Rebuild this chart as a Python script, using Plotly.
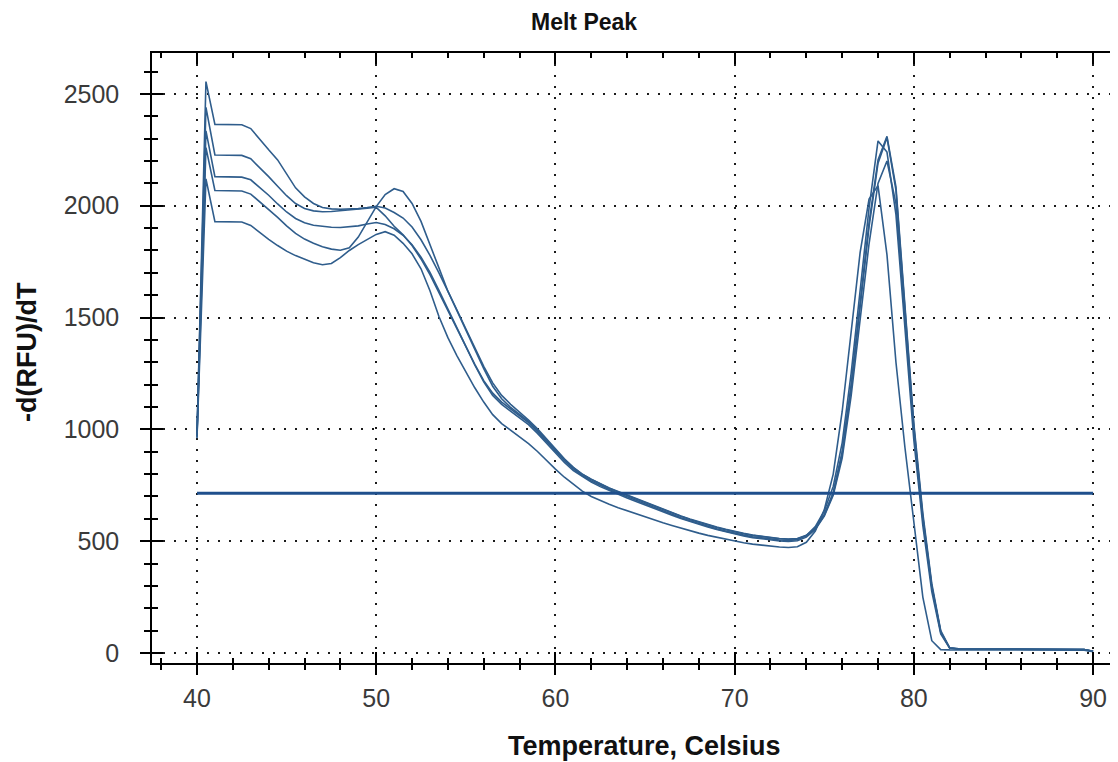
import plotly.graph_objects as go

# Temperature grid (°C), 0.5 degree steps from 40 to 90
temperature = [40 + 0.5 * i for i in range(101)]

curve_a = [975, 2555, 2364, 2364, 2364, 2362, 2345, 2295, 2250, 2205,
           2140, 2080, 2040, 2010, 1992, 1986, 1984, 1984, 1987, 1992,
           1998, 1990, 1970, 1945, 1905, 1848, 1778, 1700, 1620, 1535,
           1450, 1365, 1282, 1208, 1152, 1112, 1078, 1042, 1002, 957,
           912, 868, 830, 800, 776, 756, 737, 720, 704, 689,
           673, 657, 641, 626, 611, 597, 584, 572, 561, 551,
           541, 533, 526, 520, 515, 511, 509, 511, 524, 556,
           616, 712, 890, 1185, 1545, 1905, 2190, 2305, 2070, 1540,
           1010, 610, 300, 95, 22, 18, 18, 18, 17, 17,
           17, 17, 17, 17, 17, 16, 16, 16, 16, 15,
           8]

curve_b = [980, 2440, 2227, 2227, 2227, 2225, 2210, 2172, 2130, 2087,
           2045, 2010, 1988, 1977, 1973, 1974, 1977, 1980, 1984, 1989,
           1993, 1955, 1908, 1870, 1822, 1762, 1692, 1612, 1530, 1447,
           1367, 1291, 1218, 1162, 1122, 1092, 1062, 1030, 990, 946,
           900, 860, 823, 793, 769, 749, 731, 714, 698, 683,
           667, 651, 635, 620, 605, 591, 578, 566, 555, 545,
           535, 527, 520, 514, 509, 505, 503, 507, 525, 565,
           635, 745, 940, 1250, 1620, 1990, 2290, 2240, 1960, 1450,
           950, 570, 275, 85, 21, 18, 17, 17, 17, 17,
           17, 17, 16, 16, 16, 16, 16, 16, 15, 15,
           7]

curve_c = [970, 2335, 2130, 2130, 2130, 2128, 2116, 2083, 2047, 2008,
           1972, 1943, 1924, 1913, 1907, 1904, 1903, 1905, 1910, 1918,
           1925, 1916, 1897, 1868, 1826, 1770, 1702, 1622, 1537, 1452,
           1368, 1288, 1212, 1152, 1112, 1082, 1052, 1021, 982, 937,
           892, 852, 816, 788, 764, 744, 726, 709, 693, 678,
           662, 646, 631, 616, 602, 588, 575, 563, 552, 542,
           532, 523, 516, 510, 505, 501, 499, 502, 518, 552,
           612, 705, 872, 1150, 1490, 1830, 2100, 2200, 2010, 1510,
           995, 600, 295, 92, 22, 19, 18, 18, 18, 18,
           18, 17, 17, 17, 17, 17, 17, 16, 16, 16,
           8]

curve_d = [965, 2260, 2068, 2068, 2068, 2066, 2052, 2018, 1983, 1948,
           1910, 1876, 1851, 1832, 1817, 1806, 1801, 1812, 1860, 1930,
           1996, 2050, 2076, 2064, 2010, 1930, 1830, 1722, 1618, 1530,
           1445, 1357, 1272, 1193, 1137, 1098, 1067, 1036, 996, 951,
           906, 865, 829, 799, 777, 757, 738, 722, 706, 691,
           675, 659, 643, 628, 613, 599, 586, 574, 563, 553,
           543, 535, 527, 521, 516, 512, 510, 512, 526, 558,
           620, 718, 900, 1200, 1565, 1925, 2205, 2310, 2085, 1560,
           1025, 625, 310, 100, 23, 19, 19, 18, 18, 18,
           18, 18, 17, 17, 17, 17, 17, 17, 16, 16,
           8]

curve_e = [960, 2120, 1929, 1929, 1929, 1927, 1912, 1880, 1850, 1822,
           1797, 1777, 1760, 1745, 1736, 1742, 1768, 1800, 1826, 1850,
           1872, 1884, 1868, 1832, 1785, 1718, 1620, 1505, 1410, 1330,
           1255, 1186, 1122, 1066, 1026, 996, 966, 936, 901, 861,
           822, 786, 753, 724, 700, 682, 665, 650, 636, 622,
           608, 595, 582, 570, 558, 547, 536, 526, 517, 508,
           500, 493, 487, 482, 477, 474, 472, 475, 495, 545,
           640, 800, 1080, 1430, 1790, 2030, 2090, 1780, 1300, 920,
           590, 250, 55, 15, 14, 14, 14, 14, 14, 14,
           14, 14, 14, 13, 13, 13, 13, 13, 13, 13,
           6]

curves = [curve_a, curve_b, curve_c, curve_d, curve_e]

threshold_x = [40, 90]
threshold_value = 714

x_range = [37.49, 91.39]
y_range = [-44.7, 2683]

CURVE_COLOR = "#2f5d8c"
THRESH_COLOR = "#1f4f8c"
TICK_FONT = dict(family="Liberation Sans, Arial, sans-serif", size=25, color="#3a3a3a")
GRID_DASH = "2px,9px"

fig = go.Figure()

for vals in curves:
    fig.add_trace(go.Scatter(
        x=temperature, y=vals, mode="lines",
        line=dict(color=CURVE_COLOR, width=1.6),
        showlegend=False, hoverinfo="skip",
    ))

fig.add_trace(go.Scatter(
    x=threshold_x, y=[threshold_value, threshold_value], mode="lines",
    line=dict(color=THRESH_COLOR, width=3),
    xaxis="x2", yaxis="y2", showlegend=False, hoverinfo="skip",
))

# page has an 8px body margin; figure is sized so the plot area lands
# at page pixels x 152..1118, y 53..663
fig.update_layout(
    width=1110, height=754,
    margin=dict(l=144, r=0, t=45, b=99),
    paper_bgcolor="white", plot_bgcolor="white",
    showlegend=False,
    xaxis=dict(
        range=x_range, tick0=40, dtick=10, ticks="outside", ticklen=10,
        tickwidth=1.5, tickcolor="black", showline=True, linecolor="black",
        linewidth=1.5, mirror=False, zeroline=False,
        showgrid=True, gridcolor="#1a1a1a", gridwidth=1.5, griddash=GRID_DASH,
        minor=dict(tick0=40, dtick=2, ticks="outside", ticklen=5,
                   tickwidth=1.5, tickcolor="black", showgrid=False),
        tickfont=TICK_FONT, ticklabelstandoff=2,
    ),
    xaxis2=dict(
        range=x_range, overlaying="x", anchor="y2", side="bottom",
        tick0=40, dtick=10, ticks="inside", ticklen=11, tickwidth=1.5,
        tickcolor="black", showline=True, linecolor="black", linewidth=1.5,
        mirror="ticks", showticklabels=False, showgrid=False, zeroline=False,
        minor=dict(tick0=40, dtick=2, ticks="inside", ticklen=5,
                   tickwidth=1.5, tickcolor="black", showgrid=False),
    ),
    yaxis=dict(
        range=y_range, tick0=0, dtick=500, ticks="outside", ticklen=10,
        tickwidth=1.5, tickcolor="black", showline=True, linecolor="black",
        linewidth=1.5, zeroline=False,
        showgrid=True, gridcolor="#1a1a1a", gridwidth=1.5, griddash=GRID_DASH,
        minor=dict(tick0=0, dtick=100, ticks="outside", ticklen=6,
                   tickwidth=1.5, tickcolor="black", showgrid=False),
        tickfont=TICK_FONT, ticklabelstandoff=16,
    ),
    yaxis2=dict(
        range=y_range, overlaying="y", anchor="x2", side="left",
        tick0=0, dtick=500, ticks="inside", ticklen=11, tickwidth=1.5,
        tickcolor="black", showline=True, linecolor="black", linewidth=1.5,
        showticklabels=False, showgrid=False, zeroline=False,
        minor=dict(tick0=0, dtick=100, ticks="inside", ticklen=6,
                   tickwidth=1.5, tickcolor="black", showgrid=False),
    ),
    annotations=[
        dict(text="<b>Melt Peak</b>", xref="paper", yref="paper",
             x=(584 - 152) / 966, y=(663 - 22) / 610, xanchor="center", yanchor="middle",
             showarrow=False, font=dict(family="Liberation Sans, Arial, sans-serif", size=23, color="#111")),
        dict(text="<b>Temperature, Celsius</b>", xref="paper", yref="paper",
             x=(644 - 152) / 966, y=(663 - 746) / 610, xanchor="center", yanchor="middle",
             showarrow=False, font=dict(family="Liberation Sans, Arial, sans-serif", size=27, color="#111")),
        dict(text="<b>-d(RFU)/dT</b>", xref="paper", yref="paper",
             x=(27 - 152) / 966, y=(663 - 352) / 610, xanchor="center", yanchor="middle",
             textangle=-90, showarrow=False,
             font=dict(family="Liberation Sans, Arial, sans-serif", size=27, color="#111")),
    ],
)

fig.write_html("out.html")
